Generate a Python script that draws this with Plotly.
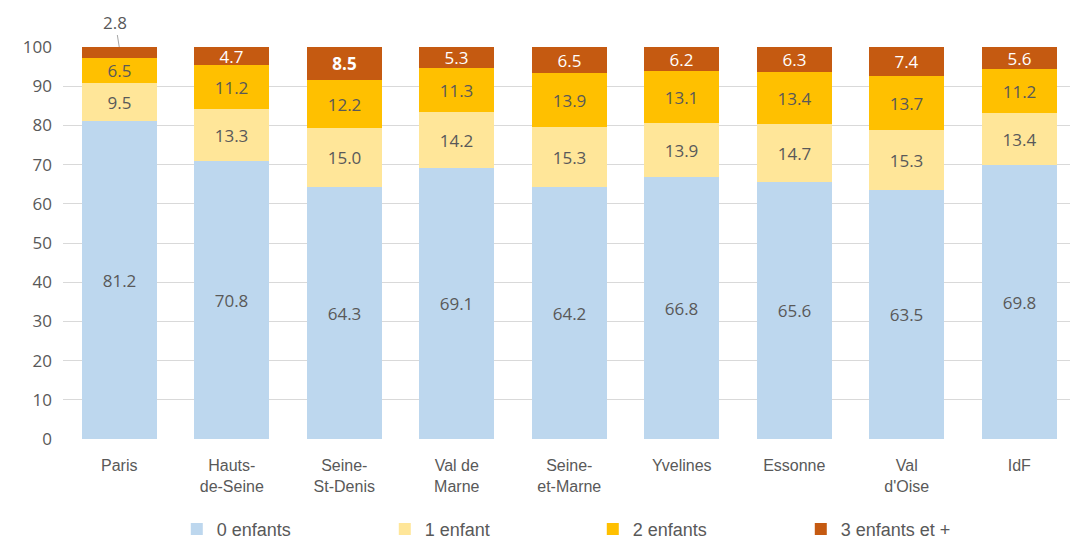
import plotly.graph_objects as go

categories = ["Paris", "Hauts-<br>de-Seine", "Seine-<br>St-Denis", "Val de<br>Marne",
              "Seine-<br>et-Marne", "Yvelines", "Essonne", "Val<br>d'Oise", "IdF"]
series_names = ["0 enfants", "1 enfant", "2 enfants", "3 enfants et +"]
enf0 = [81.2, 70.8, 64.3, 69.1, 64.2, 66.8, 65.6, 63.5, 69.8]
enf1 = [9.5, 13.3, 15.0, 14.2, 15.3, 13.9, 14.7, 15.3, 13.4]
enf2 = [6.5, 11.2, 12.2, 11.3, 13.9, 13.1, 13.4, 13.7, 11.2]
enf3 = [2.8, 4.7, 8.5, 5.3, 6.5, 6.2, 6.3, 7.4, 5.6]
y_ticks = [0, 10, 20, 30, 40, 50, 60, 70, 80, 90, 100]

colors = ["#BDD7EE", "#FFE699", "#FFC000", "#C55A11"]
text_colors = ["#595959", "#595959", "#595959", "#FFFFFF"]
FONT = "Liberation Sans Narrow, Liberation Sans, Arial"

x = list(range(len(categories)))
fig = go.Figure()
for i, (name, vals) in enumerate(zip(series_names, [enf0, enf1, enf2, enf3])):
    texts = []
    for j, v in enumerate(vals):
        t = f"{v:.1f}"
        if i == 3 and j == 0:
            t = ""
        elif i == 3 and j == 2:
            t = f"<b>{t}</b>"
        texts.append(t)
    fig.add_trace(go.Bar(
        x=x, y=vals, name=name, marker=dict(color=colors[i], line=dict(width=0)),
        width=0.667, text=texts, textposition="inside", insidetextanchor="middle",
        textangle=0, constraintext="none",
        textfont=dict(size=17, color=text_colors[i], family="Open Sans, Arial"),
    ))

fig.add_annotation(x=0, y=enf0[0] + enf1[0] + enf2[0] + enf3[0], xref="x", yref="y",
                   text=f"{enf3[0]:.1f}", showarrow=True, arrowhead=0, arrowwidth=1,
                   arrowcolor="#A6A6A6", ax=-4, ay=-25,
                   font=dict(size=17, color="#595959", family="Open Sans, Arial"))

fig.update_layout(
    barmode="stack",
    width=1070, height=539,
    margin=dict(l=63, r=0, t=47, b=100, autoexpand=False),
    plot_bgcolor="white", paper_bgcolor="white",
    bargap=0,
    xaxis=dict(range=[-0.5, 8.451], tickmode="array", tickvals=x, ticktext=categories,
               showgrid=False, zeroline=False, showline=False, ticks="",
               tickfont=dict(size=16, color="#595959", family=FONT), ticklabelstandoff=15),
    yaxis=dict(range=[0, 100], tickvals=y_ticks, showgrid=True, gridcolor="#D9D9D9",
               gridwidth=1, zeroline=False, showline=False, ticks="",
               tickfont=dict(size=17, color="#595959", family="Open Sans, Arial"),
               ticklabelstandoff=10),
    legend=dict(orientation="h", x=0.113, xanchor="left", y=-0.183, yanchor="top",
                traceorder="normal",
                entrywidth=163, entrywidthmode="pixels",
                font=dict(size=18, color="#595959", family=FONT), itemwidth=30),
    showlegend=True,
)

fig.write_html("out.html", post_script="document.body.style.margin='0';",
               config={"displayModeBar": False})
